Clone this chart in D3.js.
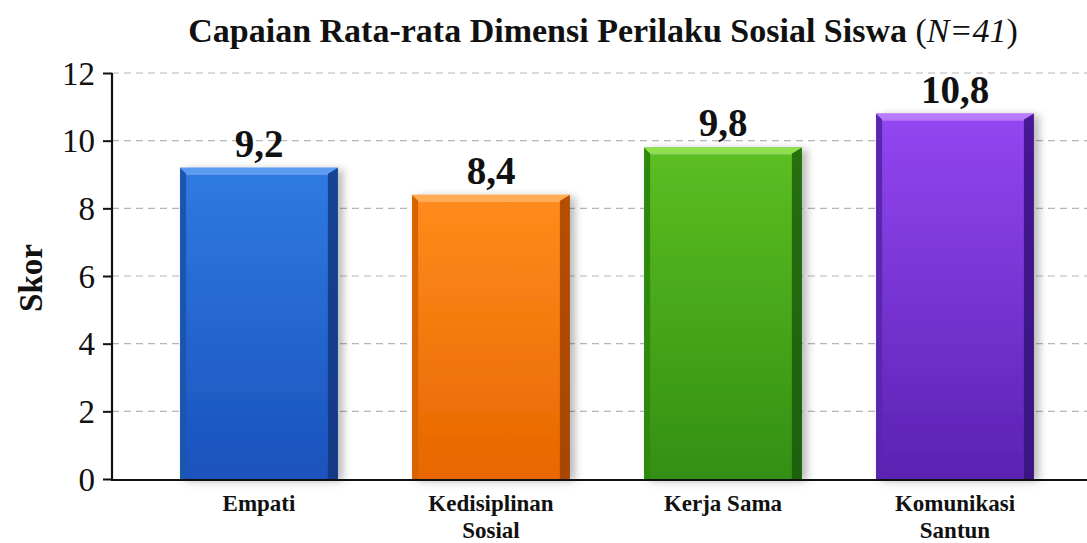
<!DOCTYPE html>
<html>
<head>
<meta charset="utf-8">
<script src="https://cdn.jsdelivr.net/npm/d3@7"></script>
<style>
  html, body { margin: 0; padding: 0; background: #fff; }
  svg { display: block; }
  text { font-family: "Liberation Serif", "Times New Roman", serif; fill: #111; }
</style>
</head>
<body>
<svg id="chart"></svg>
<script>
// ---- data ----
const categories = ["Empati", "Kedisiplinan Sosial", "Kerja Sama", "Komunikasi Santun"];
const labelLines = [["Empati"], ["Kedisiplinan", "Sosial"], ["Kerja Sama"], ["Komunikasi", "Santun"]];
const values = [9.2, 8.4, 9.8, 10.8];
const valueLabels = ["9,2", "8,4", "9,8", "10,8"];
const yTicks = [0, 2, 4, 6, 8, 10, 12];
// [top light, face top, face bottom, right edge, left edge]
const barColors = [
  ["#5b9cf0", "#2f7be2", "#1a52bc", "#123a86", "#1d55b0"],
  ["#ffae55", "#ff8c1c", "#e86600", "#a84600", "#d76300"],
  ["#8ee04e", "#5cbf22", "#338f12", "#1d6208", "#2e8a10"],
  ["#b77cff", "#9346f2", "#5a22b2", "#3a1282", "#5a25b0"]
];

const W = 1087, H = 543;
const svg = d3.select("#chart").attr("width", W).attr("height", H);

const x = d3.scaleBand()
  .domain(categories)
  .range([143, 1071])
  .paddingInner(0.32)
  .paddingOuter(0.16);

const y = d3.scaleLinear().domain([0, 12]).range([479, 73]);

// defs: gradients + shadow
const defs = svg.append("defs");
barColors.forEach((c, i) => {
  const g = defs.append("linearGradient")
    .attr("id", "face" + i)
    .attr("x1", 0).attr("y1", 0).attr("x2", 0).attr("y2", 1);
  g.append("stop").attr("offset", "0%").attr("stop-color", c[1]);
  g.append("stop").attr("offset", "100%").attr("stop-color", c[2]);
  const s = defs.append("linearGradient")
    .attr("id", "side" + i)
    .attr("x1", 0).attr("y1", 0).attr("x2", 0).attr("y2", 1);
  s.append("stop").attr("offset", "0%").attr("stop-color", c[3]).attr("stop-opacity", 0.85);
  s.append("stop").attr("offset", "100%").attr("stop-color", c[3]);
});
const shadow = defs.append("filter").attr("id", "shadow")
  .attr("x", "-10%").attr("y", "-10%").attr("width", "130%").attr("height", "120%");
shadow.append("feDropShadow")
  .attr("dx", 5).attr("dy", 2).attr("stdDeviation", 4)
  .attr("flood-color", "#000").attr("flood-opacity", 0.28);

// gridlines
svg.append("g")
  .selectAll("line")
  .data(yTicks.filter(d => d > 0))
  .join("line")
  .attr("x1", 112).attr("x2", W)
  .attr("y1", d => y(d)).attr("y2", d => y(d))
  .attr("stroke", "#b5b5b5")
  .attr("stroke-width", 1.2)
  .attr("stroke-dasharray", "7,5");

// bars
const b = 6, rb = 10;
const bars = svg.append("g")
  .selectAll("g")
  .data(categories)
  .join("g")
  .attr("filter", "url(#shadow)");

bars.each(function(d, i) {
  const g = d3.select(this);
  const x0 = x(d), w = x.bandwidth(), x1 = x0 + w;
  const top = y(values[i]), bottom = y(0);
  const c = barColors[i];
  g.append("rect")
    .attr("x", x0).attr("y", top)
    .attr("width", w).attr("height", bottom - top)
    .attr("fill", "url(#face" + i + ")");
  // left bevel
  g.append("polygon")
    .attr("points", [[x0, top], [x0 + b, top + b], [x0 + b, bottom], [x0, bottom]].join(" "))
    .attr("fill", c[4]);
  // right bevel
  g.append("polygon")
    .attr("points", [[x1, top], [x1 - rb, top + b], [x1 - rb, bottom], [x1, bottom]].join(" "))
    .attr("fill", "url(#side" + i + ")");
  // top bevel
  g.append("polygon")
    .attr("points", [[x0, top], [x1, top], [x1 - rb, top + b], [x0 + b, top + b]].join(" "))
    .attr("fill", c[0]);
  // thin highlight line inside the face
  g.append("line")
    .attr("x1", x0 + b).attr("x2", x1 - rb)
    .attr("y1", top + b + 0.5).attr("y2", top + b + 0.5)
    .attr("stroke", "#fff").attr("stroke-opacity", 0.35);
});

// value labels
svg.append("g")
  .selectAll("text")
  .data(categories)
  .join("text")
  .attr("x", d => x(d) + x.bandwidth() / 2)
  .attr("y", (d, i) => y(values[i]) - 11)
  .attr("text-anchor", "middle")
  .style("font-size", "39px")
  .style("font-weight", "bold")
  .text((d, i) => valueLabels[i]);

// y axis
const yAxis = d3.axisLeft(y).tickValues(yTicks).tickSize(9).tickPadding(8);
const ya = svg.append("g").attr("transform", "translate(112,0)").call(yAxis);
ya.select(".domain").attr("stroke", "#111").attr("stroke-width", 2.2)
  .attr("d", "M0," + y(12) + "V" + y(0));
ya.selectAll(".tick line").attr("stroke", "#111").attr("stroke-width", 2);
ya.selectAll(".tick text")
  .style("font-size", "33px")
  .style("font-family", "'Liberation Serif', 'Times New Roman', serif")
  .attr("fill", "#111")
  .attr("dy", "0.34em");

// x axis line
svg.append("line")
  .attr("x1", 111).attr("x2", W)
  .attr("y1", y(0) + 1).attr("y2", y(0) + 1)
  .attr("stroke", "#111").attr("stroke-width", 2.2);

// category labels
const cl = svg.append("g")
  .selectAll("text")
  .data(categories)
  .join("text")
  .attr("x", d => x(d) + x.bandwidth() / 2)
  .attr("y", 511)
  .attr("text-anchor", "middle")
  .style("font-size", "23px")
  .style("font-weight", "bold");
cl.each(function(d, i) {
  d3.select(this).selectAll("tspan")
    .data(labelLines[i])
    .join("tspan")
    .attr("x", x(d) + x.bandwidth() / 2)
    .attr("dy", (t, j) => j === 0 ? 0 : 27)
    .text(t => t);
});

// y label
svg.append("text")
  .attr("transform", "translate(42,278) rotate(-90)")
  .attr("text-anchor", "middle")
  .style("font-size", "33px")
  .style("font-weight", "bold")
  .text("Skor");

// title
const title = svg.append("text")
  .attr("x", 603)
  .attr("y", 42)
  .attr("text-anchor", "middle")
  .style("font-size", "34px")
  .style("font-weight", "bold");
title.append("tspan").text("Capaian Rata-rata Dimensi Perilaku Sosial Siswa ");
title.append("tspan").style("font-weight", "normal").text("(");
title.append("tspan").style("font-weight", "normal").style("font-style", "italic").text("N=41");
title.append("tspan").style("font-weight", "normal").text(")");
</script>
</body>
</html>
